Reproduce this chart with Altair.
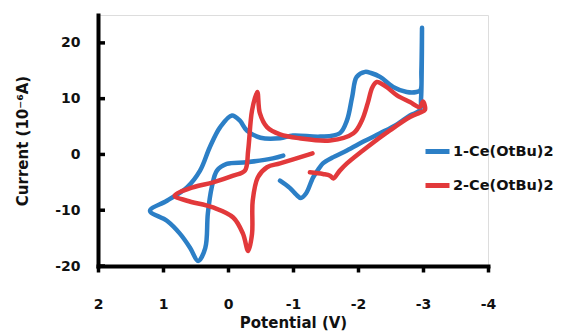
import altair as alt
import pandas as pd

# Series 1: 1-Ce(OtBu)2 (blue) -- ordered points (potential V, current 1e-6 A)
s1_v = [-0.8, -0.95, -1.05, -1.12, -1.2, -1.31, -1.4, -1.46, -1.6, -1.83, -2.1, -2.34, -2.6, -2.8, -2.95,
        -2.97, -2.98, -2.985, -2.975, -2.96, -2.9, -2.75, -2.54, -2.34, -2.2, -2.11, -1.98, -1.91, -1.83,
        -1.72, -1.42, -1.0, -0.8, -0.5, -0.29, -0.18, -0.06, 0.12, 0.28, 0.43, 0.63, 0.94, 1.2,
        0.94, 0.74, 0.58, 0.46, 0.35, 0.31, 0.25, 0.17, 0.02, -0.29, -0.69, -0.85]
s1_i = [-4.7, -6.0, -7.2, -7.8, -7.0, -4.1, -2.5, -1.6, -0.6, 0.7, 2.4, 3.8, 5.4, 7.0, 7.9,
        10.0, 15.0, 22.7, 15.0, 11.5, 11.2, 11.2, 12.1, 13.9, 14.6, 14.8, 13.9, 10.3, 6.1,
        3.8, 3.2, 3.4, 2.9, 3.0, 4.3, 6.1, 7.0, 4.9, 1.3, -2.9, -5.9, -8.3, -10.1,
        -11.9, -14.2, -16.8, -19.1, -16.8, -10.6, -5.9, -2.9, -1.7, -1.4, -0.7, -0.2]

# Series 2: 2-Ce(OtBu)2 (red)
s2_v = [-1.26, -1.46, -1.57, -1.62, -1.72, -1.83, -2.14, -2.49, -2.8, -2.95, -3.03, -3.0, -2.95,
        -2.8, -2.6, -2.45, -2.34, -2.29, -2.22, -2.15, -2.06, -1.93, -1.57, -1.1, -0.8, -0.6,
        -0.49, -0.45, -0.37, -0.31, -0.26, -0.08, 0.23, 0.54, 0.82, 0.63, 0.23, -0.08, -0.23,
        -0.31, -0.37, -0.38, -0.46, -0.6, -0.8, -1.3]
s2_i = [-3.2, -3.5, -3.8, -4.3, -2.9, -1.6, 1.3, 4.3, 6.7, 7.5, 8.0, 9.5, 8.5,
        9.4, 10.6, 12.0, 12.8, 13.0, 12.0, 9.2, 6.1, 3.8, 2.5, 2.9, 3.6, 4.9,
        7.4, 11.2, 7.9, 0.7, -2.9, -3.8, -5.0, -5.9, -7.4, -8.3, -9.5, -11.3, -14.2,
        -17.3, -14.2, -8.3, -4.1, -2.3, -1.6, 0.2]

series_names = ["1-Ce(OtBu)2", "2-Ce(OtBu)2"]
series_colors = ["#2c7fc6", "#e2393b"]
x_ticks = [2, 1, 0, -1, -2, -3, -4]
y_ticks = [-20, -10, 0, 10, 20]

rows = []
for k, (vs, cs) in enumerate([(s1_v, s1_i), (s2_v, s2_i)]):
    for j, (v, c) in enumerate(zip(vs, cs)):
        rows.append({"V": v, "I": c, "series": series_names[k], "ord": j})
df = pd.DataFrame(rows)
ticks_df = pd.DataFrame({"t": y_ticks})

FONT = "DejaVu Sans"

xscale = alt.Scale(domain=[-4, 2], reverse=True, nice=False, zero=False)
yscale = alt.Scale(domain=[-20, 25], nice=False, zero=False)

lines = alt.Chart(df).mark_line(strokeWidth=4.5, strokeJoin="round", strokeCap="round",
                                interpolate="catmull-rom").encode(
    x=alt.X("V:Q", scale=xscale, axis=alt.Axis(
        values=x_ticks, title="Potential (V)", grid=False, labelExpr="'' + datum.value",
        domainColor="black", domainWidth=4, domainCap="square",
        tickColor="black", tickWidth=3.5, tickSize=6,
        labelPadding=25, labelFont=FONT, labelFontSize=14, labelFontWeight="bold", labelColor="#111",
        titleFont=FONT, titleFontSize=15, titleFontWeight="bold", titleColor="#111", titlePadding=4,
        labelFlush=False)),
    y=alt.Y("I:Q", scale=yscale, axis=alt.Axis(
        values=y_ticks, title="Current (10⁻⁶A)", grid=False, ticks=False, labelExpr="'' + datum.value",
        domainColor="black", domainWidth=4, domainCap="square",
        labelPadding=18, labelFont=FONT, labelFontSize=14, labelFontWeight="bold", labelColor="#111",
        titleFont=FONT, titleFontSize=15, titleFontWeight="bold", titleColor="#111", titlePadding=24,
        labelFlush=False)),
    color=alt.Color("series:N", scale=alt.Scale(domain=series_names, range=series_colors),
                    legend=alt.Legend(title=None, orient="none", legendX=325, legendY=122,
                                      symbolType="stroke", symbolSize=576, symbolStrokeWidth=5,
                                      labelFont=FONT, labelFontSize=14.5, labelFontWeight="bold",
                                      labelColor="#111", labelOffset=1, rowPadding=9, labelLimit=200)),
    order=alt.Order("ord:Q"),
)

yt = alt.Chart(ticks_df).mark_rule(color="black", strokeWidth=3.5).encode(
    y=alt.Y("t:Q", scale=yscale),
    x=alt.value(0), x2=alt.value(7),
)

chart = alt.layer(lines, yt).properties(
    width=390, height=251,
    padding={"left": 90, "top": 7, "right": 66, "bottom": 67},
    autosize=alt.AutoSizeParams(type="none"),
).configure_view(stroke=None).configure(background="white")

chart.save("out.html", embed_options={"renderer": "svg", "actions": False})
